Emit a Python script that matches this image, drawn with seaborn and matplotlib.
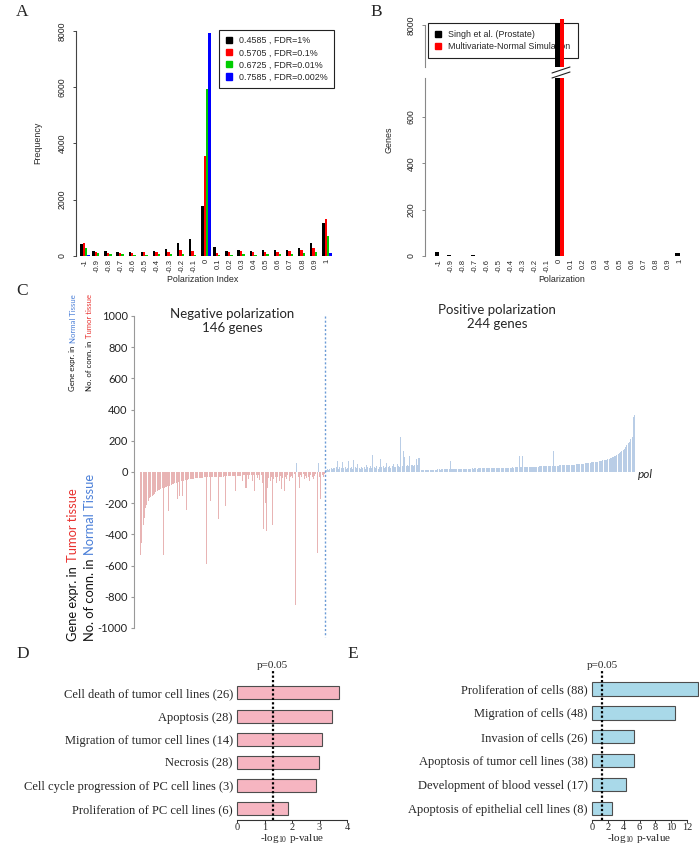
import matplotlib
matplotlib.use("Agg")
import matplotlib.pyplot as plt
from matplotlib.patches import Patch
from matplotlib.lines import Line2D
import numpy as np
import pandas as pd
import seaborn as sns

# ---------------- data ----------------
pol_bins = ["-1", "-0.9", "-0.8", "-0.7", "-0.6", "-0.5", "-0.4", "-0.3", "-0.2", "-0.1",
            "0", "0.1", "0.2", "0.3", "0.4", "0.5", "0.6", "0.7", "0.8", "0.9", "1"]

# panel A: frequency of polarization index per threshold
fdr_labels = ["0.4585 , FDR=1%", "0.5705 , FDR=0.1%", "0.6725 , FDR=0.01%", "0.7585 , FDR=0.002%"]
freq_fdr1 = [430, 190, 165, 150, 140, 140, 190, 260, 460, 590, 1790,
             320, 190, 210, 180, 210, 200, 210, 280, 450, 1190]
freq_fdr01 = [450, 150, 120, 110, 100, 130, 150, 150, 210, 190, 3560,
              120, 140, 160, 140, 150, 150, 170, 200, 300, 1300]
freq_fdr001 = [270, 90, 70, 60, 50, 50, 60, 70, 70, 30, 5920,
               30, 30, 60, 50, 60, 70, 70, 100, 150, 710]
freq_fdr0002 = [40, 10, 5, 5, 5, 5, 5, 5, 5, 5, 7930,
                5, 5, 5, 5, 5, 5, 5, 5, 5, 90]

# panel B: genes per polarization bin
b_labels = ["Singh et al. (Prostate)", "Multivariate-Normal Simulation"]
singh_genes = [19, 4, 1, 5, 1, 1, 1, 1, 1, 1, 8030, 1, 1, 1, 1, 1, 1, 1, 1, 1, 11]
mvn_genes = [2, 2, 2, 2, 2, 2, 2, 2, 2, 2, 8090, 2, 2, 2, 2, 2, 2, 2, 2, 2, 2]

# panel C: per-gene values, negative polarization (146) then positive (244)
neg_pol = [-530, -455, -338, -295, -231, -209, -188, -167, -160, -152, -148, -139, -130, -124,
           -118, -113, -108, -105, -530, -100, -96, -92, -252, -88, -84, -80, -76, -72, -68,
           -173, -64, -152, -60, -152, -56, -52, -241,
           -49, -47, -46, -44, -43, -42, -41, -40, -39, -38, -37, -37, -36, -35, -35,
           -588, -34, -33, -184, -33, -32, -32, -31, -31, -301, -30, -30, -29, -29, -28,
           -220, -28, -27, -27, -26, -26, -25, -25, -120, -24, -24, -23, -23, -55, -22, -22,
           -105, -21, -45, -21, -20, -60, -20, -120, -19, -38, -19, -50, -18, -70,
           -365, -200, -380, -103, -40, -60, -30, -338, -45, -30, -70, -35, -55, -25,
           -109, -40, -120, -30, -45, -20, -60, -35, -25, -40, -15, -850, 58, -30, -103,
           -20, -35, -15, -45, -25, -40, -30, -55, -20, -35, -45, -25, -15,
           -519, 58, -30, -173, -20, -35, -10]
pos_pol = [12, 18, 15, 22, 25, 20, 28, 24, 30, 68, 22, 30, 26, 64, 24, 32, 20, 28, 70,
           26, 34, 22, 79, 30, 24, 49, 28, 20, 35, 26, 30, 22, 43, 32, 26, 36, 28, 111,
           30, 25, 36, 22, 33, 85, 30, 38, 26, 34, 60, 32, 40, 28, 36, 49, 34, 30, 49,
           38, 30, 224, 40, 132, 96, 38, 42, 40, 100, 42, 44, 40, 45, 85, 44, 90, 88,
           10, 11, 11, 10, 11, 12, 11, 12, 12, 13,
           15, 16, 16, 17, 17, 16, 17, 18, 17, 18, 18, 17, 18, 68, 19, 19, 18, 19, 20,
           20, 21, 21, 20, 21, 22, 21, 22, 22, 21, 22, 23, 22, 23, 23, 22, 23, 24, 23, 24,
           24, 23, 24, 25, 24, 25,
           25, 26, 26, 25, 26, 27, 26, 27, 27, 26, 27, 28, 27, 28, 28, 27, 28, 29, 28, 29,
           29, 30, 100, 30, 31, 100,
           31, 32, 32, 33, 33, 33, 34, 34, 34, 35, 35, 35, 36, 36, 36, 37, 37, 37, 38, 38,
           38, 39, 39, 135,
           40, 40, 41, 41, 42, 42, 43, 43, 44, 44, 45, 45, 46, 46, 47, 48, 48, 49, 50, 50,
           51, 52, 53, 54, 55, 56, 57, 58, 60, 61,
           62, 63, 64, 66, 67, 68, 70, 72, 74, 76, 78, 80, 82, 85, 88, 91,
           95, 100, 105, 110, 116, 122, 128, 135, 142, 150,
           160, 172, 185, 192, 214, 224, 355, 363]

# panels D, E: enriched functions, -log10 p-value
d_terms = ["Cell death of tumor cell lines (26)", "Apoptosis (28)", "Migration of tumor cell lines (14)",
           "Necrosis (28)", "Cell cycle progression of PC cell lines (3)", "Proliferation of PC cell lines (6)"]
d_logp = [3.72, 3.47, 3.1, 2.98, 2.86, 1.85]
e_terms = ["Proliferation of cells (88)", "Migration of cells (48)", "Invasion of cells (26)",
           "Apoptosis of tumor cell lines (38)", "Development of blood vessel (17)",
           "Apoptosis of epithelial cell lines (8)"]
e_logp = [13.4, 10.45, 5.35, 5.25, 4.25, 2.55]
p_cut = 1.30

# ---------------- figure ----------------
sns.set_style("white")
plt.rcParams["font.family"] = ["Liberation Sans", "DejaVu Sans"]
plt.rcParams["mathtext.fontset"] = "stix"

W, H = 699, 849
fig = plt.figure(figsize=(W / 100, H / 100), dpi=100)
SERIF = ["Liberation Serif", "DejaVu Serif"]
CAL = ["Lato", "DejaVu Sans"]


def px_axes(x0, y0, x1, y1):
    return fig.add_axes([x0 / W, 1 - y1 / H, (x1 - x0) / W, (y1 - y0) / H])


def fx(x):
    return x / W


def fy(y):
    return 1 - y / H


def r_style(ax, ticks, spine_col):
    for s in ["top", "right", "bottom"]:
        ax.spines[s].set_visible(False)
    ax.spines["left"].set_color(spine_col)
    ax.spines["left"].set_linewidth(0.8)
    ax.set_yticks(ticks)
    ax.set_yticklabels([str(t) for t in ticks], rotation=90, va="center", fontsize=6.3, color="#222")
    ax.tick_params(axis="y", length=2.5, width=0.7, color=spine_col, pad=4, left=True)
    ax.set_xlabel("")
    ax.set_ylabel("")


# ----- panel A -----
axA = px_axes(76, 31, 334, 256)
dfA = pd.DataFrame({
    "bin": pol_bins * 4,
    "count": freq_fdr1 + freq_fdr01 + freq_fdr001 + freq_fdr0002,
    "thr": [l for l in fdr_labels for _ in pol_bins],
})
colsA = ["#000000", "#ff0000", "#00cd00", "#0000ff"]
sns.barplot(data=dfA, x="bin", y="count", hue="thr", order=pol_bins, hue_order=fdr_labels,
            palette=colsA, saturation=1, width=0.8, linewidth=0, legend=False, ax=axA)
axA.set_xlim(-0.74, 20.58)
axA.set_ylim(0, 8000)
r_style(axA, [0, 2000, 4000, 6000, 8000], "#444")
axA.tick_params(axis="x", length=0, pad=2, labelsize=5.5, labelrotation=90)
fig.text(fx(38), fy(143), "Frequency", rotation=90, ha="center", va="center", fontsize=6.4)
fig.text(fx(203), fy(279), "Polarization Index", ha="center", va="center", fontsize=6.4)
axA.legend([Patch(color=c) for c in colsA], fdr_labels, loc="upper right",
           bbox_to_anchor=(fx(334), fy(30)), bbox_transform=fig.transFigure,
           fancybox=False, edgecolor="#222", framealpha=1, fontsize=6.4,
           handlelength=0.7, handleheight=0.7, handletextpad=0.8, labelspacing=0.35,
           borderpad=0.7, borderaxespad=0).get_frame().set_linewidth(0.8)

# ----- panel B (broken axis) -----
dfB = pd.DataFrame({
    "bin": pol_bins * 2,
    "genes": singh_genes + mvn_genes,
    "src": [l for l in b_labels for _ in pol_bins],
})
colsB = ["#000000", "#ff0000"]
axB = px_axes(425, 78, 685, 256)
axBt = px_axes(425, 18, 685, 67)
for ax in (axB, axBt):
    sns.barplot(data=dfB, x="bin", y="genes", hue="src", order=pol_bins, hue_order=b_labels,
                palette=colsB, saturation=1, width=0.8, linewidth=0, legend=False, ax=ax)
    ax.set_xlim(-1.19, 20.42)
axB.set_ylim(0, 768)
axBt.set_ylim(7400, 8100)
r_style(axB, [0, 200, 400, 600], "#888")
r_style(axBt, [8000], "#888")
axBt.spines["left"].set_bounds(7400, 8000)
axBt.set_xticks([])
axBt.patch.set_visible(False)
axB.tick_params(axis="x", length=0, pad=2, labelsize=5.5, labelrotation=90)
fig.text(fx(389), fy(140), "Genes", rotation=90, ha="center", va="center", fontsize=6.4)
fig.text(fx(562), fy(280), "Polarization", ha="center", va="center", fontsize=6.4)
legB = fig.legend([Patch(color=c) for c in colsB], b_labels, loc="upper left",
                  bbox_to_anchor=(fx(428), fy(23)), bbox_transform=fig.transFigure,
                  fancybox=False, edgecolor="#222", framealpha=1, fontsize=6.4,
                  handlelength=0.7, handleheight=0.7, handletextpad=0.8, labelspacing=0.35,
                  borderpad=0.8, borderaxespad=0)
legB.get_frame().set_linewidth(0.8)
legB.set_zorder(-1)
for y0 in (73, 78):
    fig.add_artist(Line2D([fx(552), fx(570)], [fy(y0), fy(y0 - 6)], color="#222", lw=0.8))

# ----- panel C -----
axC = px_axes(134, 316, 645, 628)
vals_c = neg_pol + pos_pol
idx_c = list(range(len(vals_c)))
sign_c = ["neg" if v < 0 else "pos" for v in vals_c]
sns.barplot(x=idx_c, y=vals_c, hue=sign_c, palette={"neg": "#e8b4b4", "pos": "#b9cde6"},
            dodge=False, saturation=1, width=0.8, linewidth=0, legend=False, ax=axC)
axC.set_xlim(-5.2, 397.2)
axC.set_ylim(-1000, 1000)
for s in ["top", "right", "bottom"]:
    axC.spines[s].set_visible(False)
axC.spines["left"].set_color("#999")
axC.spines["left"].set_linewidth(0.8)
yt = list(range(-1000, 1001, 200))
axC.set_yticks(yt)
axC.set_yticklabels([str(t) for t in yt], fontsize=8, family=CAL, color="#222")
axC.tick_params(axis="y", length=2.5, color="#999", pad=2, left=True)
axC.set_xticks([])
axC.set_xlabel("")
axC.set_ylabel("")
split = len(neg_pol) - 0.5
axC.plot([split, split], [1000, -1060], color="#6b9bd6", lw=1, ls=(0, (1.5, 1.5)), clip_on=False)
fig.text(fx(232), fy(308), "Negative polarization\n146 genes", ha="center", va="top",
         fontsize=9.5, family=CAL, linespacing=1.15)
fig.text(fx(497), fy(304), "Positive polarization\n244 genes", ha="center", va="top",
         fontsize=9.5, family=CAL, linespacing=1.15)
fig.text(fx(638), fy(474), "pol", ha="left", va="center", fontsize=8.5, family=CAL, style="italic")

BLUE_T, RED_T = "#4a7fd8", "#e8312e"


def stacked_label(x, y_bottom, parts, size):
    prev = fig.text(fx(x), fy(y_bottom), parts[0][0], color=parts[0][1], rotation=90,
                    ha="center", va="bottom", fontsize=size, family=CAL)
    for txt, col in parts[1:]:
        prev = axC.annotate(txt, xy=(0.5, 1), xycoords=prev, xytext=(0, size * 0.3),
                            textcoords="offset points", rotation=90, ha="center", va="bottom",
                            color=col, fontsize=size, family=CAL, annotation_clip=False)


stacked_label(73, 391, [("Gene expr. in", "#111"), ("Normal Tissue", BLUE_T)], 5.6)
stacked_label(90, 391, [("No. of conn. in", "#111"), ("Tumor tissue", RED_T)], 5.6)
stacked_label(73, 641, [("Gene expr. in", "#111"), ("Tumor tissue", RED_T)], 9.3)
stacked_label(90, 641, [("No. of conn. in", "#111"), ("Normal Tissue", BLUE_T)], 9.3)


# ----- panels D, E -----
def enrich_panel(ax, terms, logp, color, xmax, xticks, ylim):
    sns.barplot(x=logp, y=terms, orient="h", color=color, saturation=1, width=0.56,
                edgecolor="#4d4d4d", linewidth=0.8, ax=ax)
    for p in ax.patches:
        p.set_clip_on(False)
    ax.set_xlim(0, xmax)
    ax.set_ylim(*ylim)
    for s in ["top", "right", "left"]:
        ax.spines[s].set_visible(False)
    ax.spines["bottom"].set_bounds(0, xmax)
    ax.spines["bottom"].set_color("#333")
    ax.spines["bottom"].set_linewidth(0.8)
    ax.set_xticks(xticks)
    ax.set_xticklabels([str(t) for t in xticks], family=SERIF, fontsize=7.5)
    ax.tick_params(axis="x", length=2, width=0.7, color="#333", pad=0, bottom=True)
    ax.tick_params(axis="y", length=0, pad=3)
    for lab in ax.get_yticklabels():
        lab.set_family(SERIF)
        lab.set_fontsize(9)
    ax.axvline(p_cut, color="black", lw=1.6, ls=(0, (1, 1)))
    ax.annotate("p=0.05", xy=(p_cut, 1), xycoords=("data", "axes fraction"), xytext=(0, 0.5),
                textcoords="offset points", ha="center", va="bottom", fontsize=8, family=SERIF)
    ax.set_ylabel("")
    ax.set_xlabel(r"-log$_{\mathregular{10}}$ p-value", family=SERIF, fontsize=8, labelpad=0)


axD = px_axes(237, 671, 347, 820)
enrich_panel(axD, d_terms, d_logp, "#f6b5c1", 4, [0, 1, 2, 3, 4], (5.5, -0.95))
axE = px_axes(592, 671, 687, 820)
enrich_panel(axE, e_terms, e_logp, "#a9d9e9", 12, [0, 2, 4, 6, 8, 10, 12], (5.48, -0.75))

# panel letters
for letter, x, y in [("A", 22, 12), ("B", 376, 12), ("C", 22, 291), ("D", 23, 654), ("E", 353, 654)]:
    fig.text(fx(x), fy(y), letter, ha="center", va="center", fontsize=12.5, family=SERIF)

fig.savefig("out.png", dpi=100)
